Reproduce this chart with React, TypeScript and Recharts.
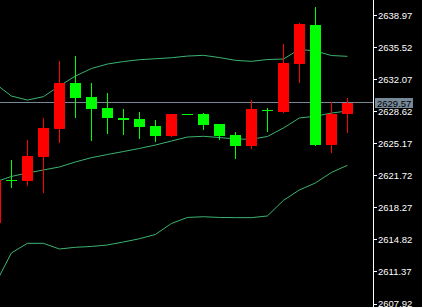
import { ComposedChart, Bar, Line, XAxis, YAxis, ReferenceLine } from 'recharts'

// OHLC, oldest bar first (bar 0 is cut by the left edge)
const OPEN = [2616.60, 2621.30, 2621.19, 2623.77, 2626.78, 2631.72, 2630.19, 2629.03, 2627.96, 2627.82, 2627.07, 2626.02, 2628.36, 2628.36, 2627.28, 2626.10, 2624.95, 2628.79, 2628.57, 2633.77, 2637.96, 2625.02, 2628.39]
const HIGH = [2621.40, 2623.41, 2625.56, 2627.96, 2634.06, 2634.59, 2631.69, 2630.62, 2628.89, 2628.57, 2627.71, 2628.36, 2628.40, 2628.46, 2627.28, 2626.42, 2629.86, 2629.03, 2635.92, 2638.11, 2639.89, 2629.68, 2630.11]
const LOW = [2616.40, 2620.43, 2620.65, 2619.83, 2625.27, 2627.89, 2625.49, 2626.24, 2626.10, 2625.70, 2625.38, 2625.88, 2628.22, 2626.64, 2625.56, 2623.52, 2624.59, 2626.45, 2628.43, 2631.72, 2624.92, 2624.20, 2626.35]
const CLOSE = [2621.26, 2621.10, 2623.84, 2626.88, 2631.72, 2630.11, 2628.93, 2627.96, 2627.74, 2626.99, 2626.02, 2628.36, 2628.25, 2627.21, 2626.02, 2624.95, 2628.89, 2628.68, 2633.87, 2638.00, 2625.02, 2628.39, 2629.57]

// Bollinger bands
const UPPER = [2631.62, 2630.29, 2629.86, 2630.22, 2631.37, 2632.44, 2633.25, 2633.73, 2634.00, 2634.20, 2634.30, 2634.41, 2634.59, 2634.67, 2634.43, 2634.13, 2634.02, 2634.22, 2634.27, 2635.31, 2635.13, 2634.65, 2634.56]
const MIDDLE = [2621.05, 2621.64, 2622.01, 2622.34, 2622.66, 2623.20, 2623.66, 2624.00, 2624.32, 2624.65, 2625.02, 2625.45, 2625.88, 2625.96, 2625.83, 2625.67, 2625.64, 2625.94, 2626.85, 2627.93, 2628.12, 2628.46, 2628.68]
const LOWER = [2610.08, 2613.41, 2614.45, 2614.45, 2613.84, 2614.02, 2614.11, 2614.27, 2614.59, 2614.94, 2615.40, 2616.58, 2617.23, 2617.31, 2617.23, 2617.21, 2617.21, 2617.39, 2619.06, 2620.19, 2620.94, 2622.07, 2622.84]

const PRICE_TICKS = [2638.97, 2635.52, 2632.07, 2628.62, 2625.17, 2621.72, 2618.27, 2614.82, 2611.37, 2607.92]
const LAST_PRICE = 2629.57

const UP = '#FF0000'
const DOWN = '#00FF00'
const BAND = '#3CB371'

const data = OPEN.map((o, i) => ({
  i,
  open: o,
  high: HIGH[i],
  low: LOW[i],
  close: CLOSE[i],
  upper: UPPER[i],
  middle: MIDDLE[i],
  lower: LOWER[i],
}))

function Candle(props: any) {
  const { x, y, width, height, payload } = props
  const { open, close, high, low } = payload
  const color = close >= open ? UP : DOWN
  const k = height / (high - low)
  const yo = y + (high - open) * k
  const yc = y + (high - close) * k
  const left = Math.round(x)
  const w = Math.round(width)
  const top = Math.round(Math.min(yo, yc))
  const bottom = Math.round(Math.max(yo, yc))
  const wTop = Math.round(y)
  const wBot = Math.round(y + height)
  return (
    <g>
      <rect x={left + Math.floor(w / 2)} y={wTop} width={1} height={Math.max(1, wBot - wTop)} fill={color} />
      <rect x={left} y={top} width={w} height={Math.max(1, bottom - top)} fill={color} />
    </g>
  )
}

function PriceTag(props: any) {
  const { viewBox } = props
  const ax = viewBox.x + viewBox.width
  const cy = Math.round(viewBox.y)
  return (
    <g>
      <rect x={ax + 2} y={cy - 5} width={38} height={10} fill="#778899" />
      <text x={ax + 4} y={cy + 4} fill="#000" fontSize={9.5} fontFamily="Liberation Sans">
        {LAST_PRICE.toFixed(2)}
      </text>
    </g>
  )
}

export default function App() {
  return (
    <div style={{ position: 'fixed', left: 0, top: 0, width: 422, height: 307, background: '#000', overflow: 'hidden' }}>
      <ComposedChart width={422} height={307} data={data} margin={{ top: 0, right: 0, bottom: 0, left: 0 }}>
        <XAxis dataKey="i" type="number" domain={[0.29, 23.6]} allowDataOverflow hide />
        <YAxis
          orientation="right"
          domain={[2607.6, 2640.62]}
          allowDataOverflow
          ticks={PRICE_TICKS}
          interval={0}
          width={49}
          tickSize={4}
          tickMargin={1}
          axisLine={{ stroke: '#FFFFFF', shapeRendering: 'crispEdges' }}
          tickLine={{ stroke: '#FFFFFF', shapeRendering: 'crispEdges' }}
          tick={{ fill: '#FFFFFF', fontSize: 9.5, fontFamily: 'Liberation Sans', textAnchor: 'start' }}
          tickFormatter={(v: number) => v.toFixed(2)}
        />
        <ReferenceLine y={LAST_PRICE} stroke="#778899" shapeRendering="crispEdges" zIndex={350} label={<PriceTag />} />
        <Line dataKey="upper" stroke={BAND} strokeWidth={1} dot={false} activeDot={false} type="linear" isAnimationActive={false} />
        <Line dataKey="middle" stroke={BAND} strokeWidth={1} dot={false} activeDot={false} type="linear" isAnimationActive={false} />
        <Line dataKey="lower" stroke={BAND} strokeWidth={1} dot={false} activeDot={false} type="linear" isAnimationActive={false} />
        <Bar dataKey={(d: any) => [d.low, d.high]} barSize={11} shape={<Candle />} zIndex={450} isAnimationActive={false} />
      </ComposedChart>
    </div>
  )
}
